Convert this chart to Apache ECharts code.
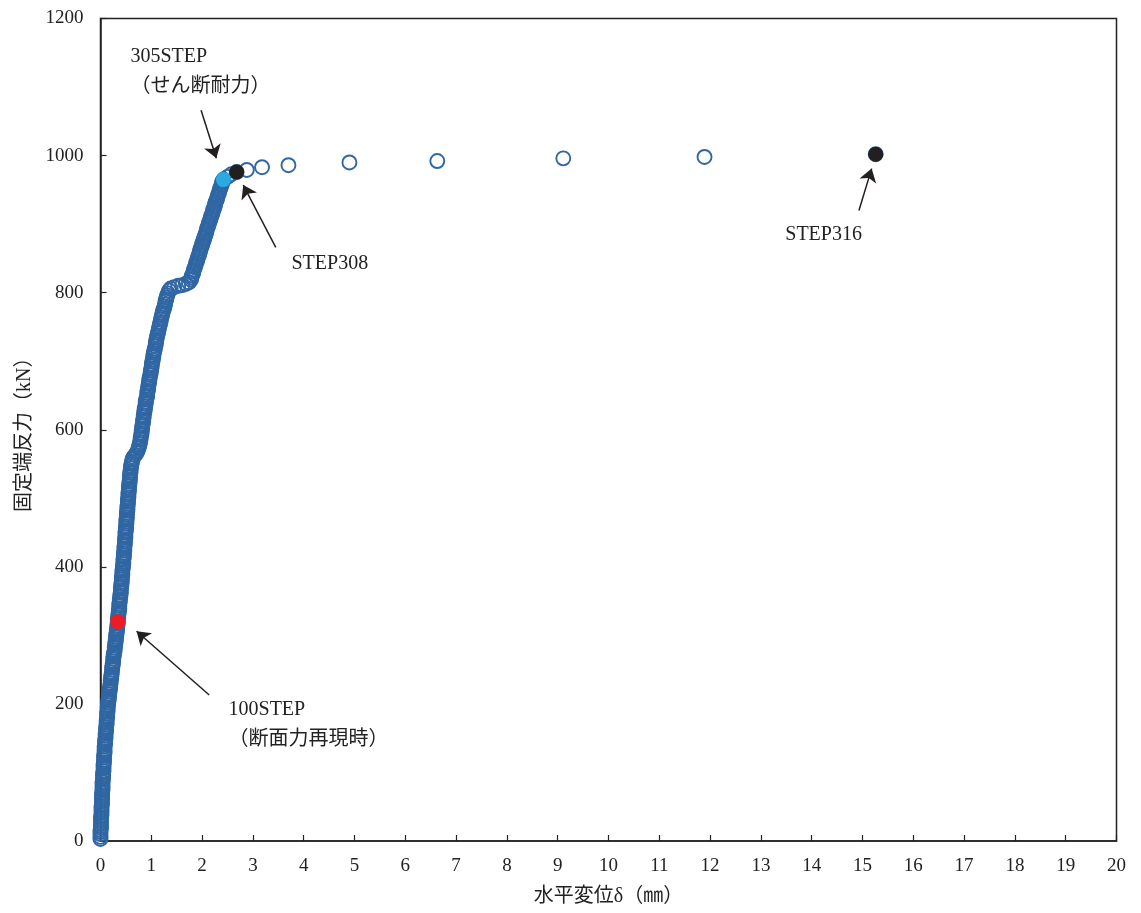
<!DOCTYPE html>
<html>
<head>
<meta charset="utf-8">
<script src="https://cdn.jsdelivr.net/npm/echarts@6/dist/echarts.min.js"></script>
<style>html,body{margin:0;padding:0;background:#fff}#c{width:1141px;height:913px}</style>
</head>
<body>
<div id="c"></div>
<script>
// horizontal displacement (mm), steps 1..316
const dispMm = [
0.00,0.00,0.00,0.00,0.00,0.01,0.01,0.01,0.01,0.01,
0.01,0.02,0.02,0.02,0.02,0.02,0.03,0.03,0.03,0.03,
0.03,0.03,0.04,0.04,0.04,0.04,0.04,0.05,0.05,0.05,
0.05,0.06,0.06,0.06,0.06,0.07,0.07,0.07,0.07,0.08,
0.08,0.08,0.08,0.09,0.09,0.09,0.10,0.10,0.10,0.11,
0.11,0.11,0.12,0.12,0.12,0.13,0.13,0.13,0.14,0.14,
0.14,0.15,0.15,0.16,0.16,0.17,0.17,0.18,0.18,0.19,
0.19,0.20,0.20,0.21,0.21,0.22,0.22,0.23,0.23,0.24,
0.24,0.25,0.25,0.26,0.26,0.27,0.28,0.28,0.29,0.29,
0.30,0.30,0.31,0.31,0.32,0.32,0.33,0.33,0.34,0.34,
0.34,0.35,0.35,0.36,0.36,0.37,0.37,0.37,0.38,0.38,
0.39,0.39,0.40,0.40,0.40,0.41,0.41,0.42,0.42,0.42,
0.43,0.43,0.43,0.44,0.44,0.45,0.45,0.45,0.46,0.46,
0.46,0.47,0.47,0.47,0.48,0.48,0.48,0.49,0.49,0.49,
0.50,0.50,0.50,0.51,0.51,0.51,0.52,0.52,0.52,0.53,
0.53,0.53,0.54,0.54,0.54,0.55,0.55,0.55,0.56,0.56,
0.56,0.57,0.57,0.58,0.58,0.58,0.59,0.59,0.60,0.60,
0.61,0.62,0.63,0.65,0.68,0.71,0.73,0.75,0.76,0.77,
0.78,0.79,0.79,0.80,0.81,0.81,0.82,0.82,0.83,0.84,
0.84,0.85,0.85,0.86,0.87,0.87,0.88,0.89,0.89,0.90,
0.91,0.92,0.92,0.93,0.94,0.94,0.95,0.96,0.96,0.97,
0.98,0.99,0.99,1.00,1.01,1.01,1.02,1.03,1.04,1.04,
1.05,1.06,1.07,1.08,1.09,1.09,1.10,1.11,1.12,1.13,
1.14,1.15,1.16,1.17,1.18,1.19,1.20,1.21,1.22,1.23,
1.25,1.26,1.27,1.28,1.29,1.30,1.31,1.33,1.35,1.38,
1.45,1.53,1.61,1.68,1.74,
1.78,1.79,1.80,1.82,1.83,1.84,1.86,1.87,1.88,1.90,
1.91,1.92,1.94,1.95,1.96,1.97,1.99,2.00,2.01,2.03,
2.04,2.05,2.07,2.08,2.09,2.10,2.12,2.13,2.14,2.16,
2.17,2.18,2.20,2.21,2.22,2.24,2.25,2.26,2.27,2.29,
2.30,2.31,2.33,2.34,2.35,2.37,2.38,2.39,2.40,2.42,
2.50,2.58,2.68,
2.88,3.18,3.70,4.90,6.63,9.11,11.89,15.26
];
// fixed-end reaction (kN), steps 1..316
const forceKN = [
3,6,10,13,16,19,22,26,29,32,
35,38,42,45,48,51,54,58,61,64,
67,70,74,77,80,83,86,90,93,96,
99,102,106,109,112,115,118,122,125,128,
131,134,138,141,144,147,150,154,157,160,
163,166,170,173,176,179,182,186,189,192,
195,198,202,205,208,211,214,218,221,224,
227,230,234,237,240,243,246,250,253,256,
259,262,266,269,272,275,278,282,285,288,
291,294,298,301,304,307,310,314,317,320,
323,326,330,333,336,339,343,346,349,352,
356,359,362,365,369,372,375,378,382,385,
388,391,395,398,401,404,407,411,414,417,
420,424,427,430,433,437,440,443,446,450,
453,456,459,463,466,469,472,476,479,482,
485,488,492,495,498,501,505,508,511,514,
518,521,524,527,531,534,537,540,544,547,
550,553,557,560,563,566,569,573,576,579,
582,586,589,592,595,599,602,605,608,612,
615,618,621,625,628,631,634,638,641,644,
647,650,654,657,660,663,667,670,673,676,
680,683,686,689,693,696,699,702,706,709,
712,715,718,722,725,728,731,735,738,741,
744,748,751,754,757,761,764,767,770,774,
777,780,783,787,790,793,796,799,803,806,
808,810,811,813,815,
819,822,825,828,831,834,837,840,843,846,
849,852,855,858,861,864,867,870,873,876,
879,882,885,888,891,894,897,900,903,906,
909,912,915,918,921,924,927,930,933,936,
939,942,945,948,951,954,957,959,962,965,
969,973,976,
979,983,986,990,992,996,998,1002
];
const highlightSteps = [100, 305, 308, 316];
const highlightColors = ['#ed1c24', '#29abe2', '#231f20', '#231f20'];

const noteTexts = ['305STEP\n（せん断耐力）', 'STEP308', 'STEP316', '100STEP\n（断面力再現時）'];
const noteAnchors = [[0.58, 1122], [3.75, 842], [13.47, 884], [2.51, 169]];
const arrowFrom = [[1.98, 1066], [3.45, 866], [14.93, 920], [2.14, 213]];
const arrowTo = [[2.28, 996], [2.81, 957], [15.18, 981], [0.71, 306]];

const xTicks = [0, 20, 1];
const yTicks = [0, 1200, 200];
const xName = '水平変位δ（㎜）';
const yName = '固定端反力（kN）';

const FONT = "'Liberation Serif', 'Noto Sans CJK JP', serif";
const TXT = '#222';

const mainData = dispMm.map((x, i) => [x, forceKN[i]]);
const hiData = highlightSteps.map((s, i) => ({
  value: [dispMm[s - 1], forceKN[s - 1]],
  itemStyle: { color: highlightColors[i], opacity: 1 }
}));

const chart = echarts.init(document.getElementById('c'), null, { renderer: 'canvas' });
chart.setOption({
  animation: false,
  backgroundColor: '#fff',
  grid: { left: 100.5, right: 24.5, top: 18.5, bottom: 72, show: true, borderColor: '#222', borderWidth: 1.5 },
  xAxis: {
    type: 'value', min: xTicks[0], max: xTicks[1], interval: xTicks[2],
    name: xName, nameLocation: 'middle', nameGap: 46,
    nameTextStyle: { fontFamily: FONT, fontSize: 20, color: TXT },
    axisLine: { show: true, lineStyle: { color: '#222', width: 1.5 } },
    axisTick: { show: true, inside: true, length: 6, lineStyle: { color: '#222', width: 1.2 } },
    axisLabel: { fontFamily: FONT, fontSize: 19, color: TXT, margin: 16 },
    splitLine: { show: false }
  },
  yAxis: {
    type: 'value', min: yTicks[0], max: yTicks[1], interval: yTicks[2],
    name: yName, nameLocation: 'middle', nameGap: 66, nameRotate: 90,
    nameTextStyle: { fontFamily: FONT, fontSize: 20, color: TXT },
    axisLine: { show: true, lineStyle: { color: '#222', width: 1.5 } },
    axisTick: { show: true, inside: true, length: 6, lineStyle: { color: '#222', width: 1.2 } },
    axisLabel: { fontFamily: FONT, fontSize: 19, color: TXT, margin: 17, formatter: v => String(v) },
    splitLine: { show: false }
  },
  series: [
    {
      type: 'scatter', data: mainData, symbol: 'circle', symbolSize: 14,
      itemStyle: { color: 'rgba(255,255,255,0)', borderColor: '#2f66a3', borderWidth: 1.9, opacity: 1 },
      silent: true, z: 2
    },
    {
      type: 'scatter', data: hiData, symbol: 'circle', symbolSize: 15,
      itemStyle: { opacity: 1 },
      silent: true, z: 3,
      markLine: {
        silent: true, symbol: ['none', 'arrow'], symbolSize: 13,
        lineStyle: { color: '#231f20', width: 1.5, type: 'solid', opacity: 1 },
        itemStyle: { color: '#231f20' },
        label: { show: false },
        data: arrowFrom.map((f, i) => [{ coord: f }, { coord: arrowTo[i] }])
      }
    },
    {
      type: 'scatter', symbol: 'circle', symbolSize: 1, silent: true, z: 4,
      itemStyle: { color: 'rgba(0,0,0,0)', opacity: 1 },
      data: noteAnchors.map((p, i) => ({ value: p, label: { formatter: noteTexts[i] } })),
      label: {
        show: true, position: 'right', distance: 0, align: 'left', verticalAlign: 'middle',
        fontFamily: FONT, fontSize: 20, color: TXT, lineHeight: 30, opacity: 1
      }
    }
  ]
});
</script>
</body>
</html>
